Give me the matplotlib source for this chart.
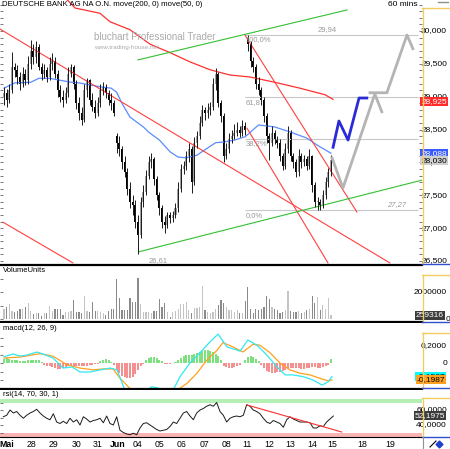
import numpy as np
import matplotlib.pyplot as plt
from matplotlib.lines import Line2D
from matplotlib.transforms import blended_transform_factory

plt.rcParams['font.family'] = ['Liberation Sans', 'DejaVu Sans']

# hourly bars, Deutsche Bank, 25 May .. 15 Jun
opens = [29.00, 29.05, 28.95, 29.10, 29.45, 29.40, 29.30, 29.20, 29.35, 29.25,
         29.50, 29.70, 29.60, 29.75, 29.45, 29.35, 29.40, 29.30, 29.50, 29.55,
         29.35, 29.10, 29.00, 28.95, 29.05, 29.35, 29.45, 29.20, 28.90, 28.75,
         28.65, 29.10, 29.25, 28.95, 28.85, 28.75, 28.90, 29.10, 29.15, 29.05,
         28.95, 28.90, 28.40, 28.30, 28.20, 28.00, 27.85, 27.60, 27.40, 27.35,
         27.10, 26.90, 27.40, 27.55, 27.80, 28.00, 28.05, 27.75, 27.50, 27.30,
         27.10, 27.05, 27.20, 27.15, 27.20, 27.30, 27.60, 27.90, 27.95, 28.10,
         28.20, 27.70, 28.30, 28.40, 28.60, 28.80, 28.75, 28.80, 28.85, 29.20,
         29.35, 28.90, 28.70, 28.10, 28.20, 28.35, 28.40, 28.45, 28.50, 28.45,
         28.55, 29.90, 29.80, 29.55, 29.45, 29.20, 29.10, 28.95, 28.70, 28.40,
         28.30, 28.45, 28.35, 28.30, 28.10, 27.95, 28.20, 28.45, 28.10, 28.00,
         27.85, 28.10, 28.00, 28.05, 27.95, 28.10, 27.65, 27.40, 27.40, 27.35,
         27.50, 27.70, 27.85]
closes = [29.05, 28.95, 29.10, 29.45, 29.40, 29.30, 29.20, 29.35, 29.25, 29.50,
          29.70, 29.60, 29.75, 29.45, 29.35, 29.40, 29.30, 29.50, 29.55, 29.35,
          29.10, 29.00, 28.95, 29.05, 29.35, 29.45, 29.20, 28.90, 28.75, 28.65,
          29.10, 29.25, 28.95, 28.85, 28.75, 28.90, 29.10, 29.15, 29.05, 28.95,
          28.90, 28.75, 28.30, 28.20, 28.00, 27.85, 27.60, 27.40, 27.35, 27.10,
          26.90, 27.40, 27.55, 27.80, 28.00, 28.05, 27.75, 27.50, 27.30, 27.10,
          27.05, 27.20, 27.15, 27.20, 27.30, 27.60, 27.90, 27.95, 28.10, 28.20,
          27.70, 28.30, 28.40, 28.60, 28.80, 28.75, 28.80, 28.85, 29.20, 29.35,
          28.90, 28.70, 28.10, 28.20, 28.35, 28.40, 28.45, 28.50, 28.45, 28.55,
          28.50, 29.80, 29.55, 29.45, 29.20, 29.10, 28.95, 28.70, 28.40, 28.30,
          28.45, 28.35, 28.30, 28.10, 27.95, 28.20, 28.45, 28.10, 28.00, 27.85,
          28.10, 28.00, 28.05, 27.95, 28.10, 27.65, 27.40, 27.40, 27.35, 27.50,
          27.70, 27.85, 28.03]
highs = [29.15, 29.12, 29.20, 29.68, 29.52, 29.48, 29.38, 29.45, 29.42, 29.62,
         29.86, 29.80, 29.85, 29.80, 29.52, 29.50, 29.45, 29.60, 29.66, 29.60,
         29.40, 29.18, 29.10, 29.15, 29.45, 29.50, 29.48, 29.25, 29.00, 28.85,
         29.20, 29.28, 29.27, 29.05, 28.95, 29.00, 29.20, 29.22, 29.20, 29.10,
         29.05, 28.95, 28.45, 28.40, 28.25, 28.10, 27.92, 27.70, 27.50, 27.42,
         27.20, 27.48, 27.65, 27.88, 28.10, 28.14, 28.08, 27.80, 27.55, 27.35,
         27.18, 27.25, 27.24, 27.26, 27.38, 27.70, 27.98, 28.02, 28.18, 28.30,
         28.25, 28.38, 28.48, 28.70, 28.88, 28.85, 28.90, 28.92, 29.28, 29.44,
         29.38, 28.95, 28.75, 28.30, 28.45, 28.50, 28.58, 28.62, 28.55, 28.65,
         28.62, 29.94, 29.85, 29.60, 29.50, 29.30, 29.15, 29.00, 28.75, 28.45,
         28.55, 28.50, 28.40, 28.35, 28.15, 28.30, 28.55, 28.50, 28.15, 28.05,
         28.20, 28.15, 28.12, 28.10, 28.20, 28.12, 27.70, 27.48, 27.45, 27.58,
         27.78, 27.92, 28.12]
lows = [28.88, 28.85, 28.90, 29.05, 29.30, 29.20, 29.10, 29.15, 29.18, 29.20,
        29.42, 29.50, 29.52, 29.40, 29.25, 29.28, 29.22, 29.26, 29.40, 29.28,
        29.00, 28.92, 28.85, 28.90, 29.00, 29.30, 29.12, 28.82, 28.65, 28.57,
        28.62, 29.00, 28.88, 28.78, 28.68, 28.70, 28.85, 29.02, 28.98, 28.88,
        28.80, 28.70, 28.14, 28.10, 27.90, 27.78, 27.50, 27.30, 27.20, 27.00,
        26.61, 26.85, 27.32, 27.50, 27.75, 27.92, 27.65, 27.42, 27.20, 27.00,
        26.93, 27.00, 27.08, 27.10, 27.15, 27.25, 27.55, 27.82, 27.88, 28.00,
        27.53, 27.65, 28.22, 28.35, 28.55, 28.65, 28.68, 28.72, 28.80, 29.10,
        28.85, 28.62, 28.00, 28.05, 28.15, 28.30, 28.35, 28.40, 28.38, 28.40,
        28.42, 29.70, 29.45, 29.38, 29.12, 29.02, 28.88, 28.62, 28.30, 28.04,
        28.25, 28.28, 28.22, 28.02, 27.88, 27.90, 28.15, 28.02, 27.92, 27.78,
        27.80, 27.92, 27.95, 27.88, 27.90, 27.55, 27.32, 27.27, 27.27, 27.30,
        27.45, 27.62, 27.80]
# volume in millions
volume = [0.72, 0.91, 1.11, 0.62, 0.49, 0.62, 0.72, 0.74, 0.86, 1.21,
          0.59, 0.35, 0.42, 0.42, 0.25, 0.42, 0.42, 0.96, 0.62, 0.77,
          0.72, 0.77, 0.30, 0.49, 0.54, 0.59, 1.41, 0.54, 0.49, 0.47,
          1.73, 0.62, 0.54, 1.26, 0.62, 0.62, 0.54, 0.42, 0.27, 0.57,
          0.74, 0.74, 2.94, 1.53, 0.67, 0.67, 0.67, 1.58, 1.23, 1.23,
          3.06, 1.09, 0.49, 0.49, 0.49, 0.47, 0.59, 0.62, 1.48, 0.91,
          1.16, 0.49, 0.17, 0.49, 0.62, 0.74, 1.09, 1.09, 1.23, 0.67,
          0.42, 0.79, 0.84, 0.86, 2.44, 0.67, 0.49, 0.42, 0.49, 0.74,
          1.04, 1.41, 1.21, 0.86, 0.67, 0.67, 0.49, 0.67, 0.42, 0.47,
          1.36, 2.40, 0.72, 0.42, 0.74, 0.67, 0.74, 0.91, 1.70, 1.46,
          0.91, 0.72, 0.67, 0.42, 0.54, 0.67, 2.07, 0.59, 0.49, 0.54,
          0.59, 0.42, 0.49, 0.67, 0.74, 1.70, 1.16, 1.65, 0.67, 1.04,
          0.72, 1.58, 0.26]
macd_hist = [0.05, 0.06, 0.05, 0.04, 0.04, 0.03, 0.02, 0.02, 0.02, 0.03,
             0.03, 0.03, 0.04, 0.03, 0.01, -0.02, -0.03, -0.04, -0.05, -0.06,
             -0.07, -0.07, -0.06, -0.05, -0.04, -0.04, -0.03, -0.03, -0.04, -0.04,
             -0.03, -0.03, -0.02, -0.02, -0.01, -0.01, 0.02, 0.04, 0.05, 0.04,
             0.01, -0.02, -0.08, -0.12, -0.15, -0.17, -0.18, -0.18, -0.16, -0.13,
             -0.08, -0.04, -0.01, 0.03, 0.06, 0.07, 0.07, 0.06, 0.04, 0.02,
             -0.01, -0.01, -0.01, 0.0, 0.01, 0.03, 0.06, 0.08, 0.09, 0.10,
             0.10, 0.11, 0.12, 0.13, 0.14, 0.15, 0.15, 0.14, 0.13, 0.11,
             0.08, 0.03, -0.03, -0.05, -0.06, -0.06, -0.05, -0.04, -0.02, 0.0,
             0.04, 0.07, 0.08, 0.07, 0.05, 0.02, -0.02, -0.06, -0.09, -0.11,
             -0.12, -0.12, -0.11, -0.10, -0.09, -0.08, -0.07, -0.06, -0.06, -0.06,
             -0.06, -0.07, -0.07, -0.06, -0.06, -0.05, -0.05, -0.06, -0.06, -0.05,
             -0.04, -0.02, 0.05]

# moving averages read at sample bars
ma200_bars = [23, 26.5, 35.8, 39.6, 47, 54.5, 62, 69.4, 76.9, 84.3, 91.8, 101, 110.4, 119.8, 122.8]
ma200_vals = [30.50, 30.35, 30.27, 30.14, 30.02, 29.80, 29.67, 29.53, 29.41, 29.33, 29.30, 29.22, 29.13, 29.03, 28.96]
ma50_bars = [0, 4, 10, 13, 17, 21, 25, 28, 32, 36, 40, 42, 44, 47, 50, 52, 54, 58, 62, 65, 68, 72,
             76, 79, 82, 86, 90, 95, 101, 107, 113, 117, 122]
ma50_vals = [29.13, 29.21, 29.22, 29.28, 29.28, 29.25, 29.22, 29.21, 29.18, 29.15, 29.13, 29.07, 28.90,
             28.69, 28.60, 28.54, 28.46, 28.34, 28.16, 28.08, 28.07, 28.11, 28.22, 28.30, 28.31, 28.34,
             28.39, 28.57, 28.54, 28.46, 28.37, 28.26, 28.14]

macd_bars = [0, 3.4, 6, 8.6, 12.3, 14.6, 18.3, 22, 25.4, 28.4, 32.1, 35.8, 39.6, 42.2, 45.1, 48.1, 51.9,
             55.2, 58.2, 63.1, 65.7, 69.4, 73.1, 76.9, 79.9, 83.2, 88.1, 91, 94.4, 98.1, 101.9, 104.9,
             107.8, 111.6, 115.3, 118.7, 121, 122.4]
macd_vals = [0.074, 0.106, 0.082, 0.094, 0.129, 0.106, 0.059, -0.059, -0.047, -0.106, -0.106, -0.082,
             -0.059, -0.082, -0.32, -0.43, -0.34, -0.28, -0.30, -0.32, -0.16, 0.0, 0.12, 0.25, 0.34,
             0.19, 0.14, 0.27, 0.21, 0.094, -0.047, -0.14, -0.14, -0.16, -0.20, -0.26, -0.22, -0.16]
signal_bars = [0, 6, 13.4, 18.3, 23.5, 28.4, 33.2, 36.9, 40.7, 43.3, 47, 50.7, 58.2, 64.6, 68.3, 72,
               75.7, 79.5, 81.7, 85.4, 89.2, 92.9, 95.5, 99.3, 103, 106.7, 110.4, 114.2, 117.9, 120.9, 122.4]
signal_vals = [0.059, 0.07, 0.11, 0.08, -0.02, -0.06, -0.08, -0.07, -0.07, -0.18, -0.30, -0.40, -0.42,
               -0.32, -0.24, -0.12, 0.035, 0.15, 0.24, 0.19, 0.13, 0.22, 0.21, 0.12, 0.0, -0.08, -0.12,
               -0.14, -0.18, -0.21, -0.20]

rsi_vals = [51, 53, 60, 56, 58, 53, 49, 53, 56, 58, 61, 56, 52, 49, 47, 55, 44, 42, 45, 42,
            49, 44, 47, 40, 51, 48, 44, 46, 47, 49, 43, 52, 42, 40, 51, 33, 30, 28, 27, 29,
            27, 36, 42, 43, 40, 37, 34, 32, 33, 34, 38, 44, 42, 49, 56, 58, 52, 47, 56, 60,
            62, 65, 67, 65, 70, 58, 53, 44, 49, 51, 52, 51, 53, 67, 65, 60, 58, 55, 49, 44,
            42, 46, 44, 42, 37, 47, 51, 48, 46, 44, 44, 44, 43, 36, 36, 39, 38, 44, 48, 52]

# drawing tools (bar, price)
red_lines = [([-1.5, 144.0], [30.03, 26.47]),
             ([-0.4, 25.7], [27.09, 26.47]),
             ([89.9, 131.7], [29.94, 27.245]),
             ([90.7, 120.9], [28.52, 26.47])]
green_lines = [([50.0, 128.0], [29.56, 30.32]),
               ([50.4, 156.0], [26.64, 27.73])]
fib_levels = [29.94, 28.99, 28.36, 27.27]
fib_labels = ['100,0%', '61,8', '38,2%', '0,0%']
blue_path = ([122.8, 125.0, 128.4, 132.5, 135.4], [28.23, 28.63, 28.34, 28.98, 28.98])
gray_path1 = ([122.4, 126.5, 138.4, 141.0], [28.07, 27.61, 29.04, 28.77])
gray_path2 = ([136.6, 142.9, 150.4, 152.6], [29.06, 29.06, 29.94, 29.73])
rsi_trend = ([90.7, 126.0], [66.7, 30.7])

date_pos = [1.2, 10.4, 18.4, 26.9, 35.1, 42.5, 50.0, 58.2, 66.4, 75.0, 83.2, 90.7, 98.9, 106.7,
            115.0, 122.4, 133.6, 144.0]
date_labels = ['Mai', '28', '29', '30', '31', 'Jun', '04', '05', '06', '07', '08', '11', '12', '13',
               '14', '15', '18', '19']

W, H = 450, 449
fig = plt.figure(figsize=(W / 100, H / 100), dpi=100)


def px_axes(x0, y0, x1, y1, ylim):
    ax = fig.add_axes([x0 / W, 1 - y1 / H, (x1 - x0) / W, (y1 - y0) / H])
    ax.set_xlim(-1.5, 156)
    ax.set_ylim(*ylim)
    for s in ('top', 'left', 'right'):
        ax.spines[s].set_visible(False)
    ax.spines['bottom'].set_linewidth(1.6)
    ax.set_xticks([])
    return ax


def fig_line(x0, y0, x1, y1, **kw):
    fig.add_artist(Line2D([x0 / W, x1 / W], [1 - y0 / H, 1 - y1 / H],
                          transform=fig.transFigure, **kw))


def fig_text(x, y, s, **kw):
    fig.text(x / W, 1 - y / H, s, **kw)


def side_label(ax, y, s, fc=None, color='black', x=447):
    tr = blended_transform_factory(fig.transFigure, ax.transData)
    kw = {}
    if fc:
        kw['bbox'] = dict(boxstyle='square,pad=0.12', fc=fc, ec='none')
    ax.text(x / W, y, s, transform=tr, ha='right', va='center', fontsize=6,
            color=color, clip_on=False, **kw)


def left_ticks(ax, ticks, both=False):
    ax.set_yticks(ticks)
    ax.set_yticklabels([])
    ax.tick_params(axis='y', direction='in', length=2, width=0.6, color='#606060',
                   left=True, right=both)


o, c = np.array(opens), np.array(closes)
h, l = np.array(highs), np.array(lows)
bars = np.arange(len(c))
rising = c >= o

# ---- price panel
ax = px_axes(0, 0, 422, 265, (26.438, 30.472))
left_ticks(ax, np.arange(26.5, 30.45, 0.1), both=True)
ax.hlines(fib_levels, 90, 154.5, color='#c8c8c8', lw=0.8)
for lev, lab in zip(fib_levels, fib_labels):
    ax.text(90.3, lev - 0.02, lab, va='top', fontsize=5.5, color='#9a9a9a')
ax.text(124.3, 29.97, '29,94', ha='right', va='bottom', fontsize=5.5, color='#9a9a9a')
ax.text(150.0, 27.30, '27,27', ha='right', va='bottom', fontsize=5.5, color='#9a9a9a', style='italic')
ax.text(57.5, 26.56, '26,61', ha='center', va='top', fontsize=5.5, color='#9a9a9a')
ax.plot(ma200_bars, ma200_vals, color='#ff3030', lw=0.9)
ax.plot(ma50_bars, ma50_vals, color='#5a8cff', lw=0.9)
for xs, ys in red_lines:
    ax.plot(xs, ys, color='#ff4040', lw=0.8)
for xs, ys in green_lines:
    ax.plot(xs, ys, color='#33c033', lw=0.8)
ax.vlines(bars, l, h, color='#1a1a1a', lw=0.7)
ax.bar(bars, np.maximum(np.abs(c - o), 0.015), bottom=np.minimum(o, c), width=0.75,
       color=np.where(rising, '#a0a0a0', '#000000'), lw=0)
ax.plot(*gray_path1, color='#b4b4b4', lw=2)
ax.plot(*gray_path2, color='#b4b4b4', lw=2)
ax.plot(*blue_path, color='#2a2ad8', lw=2)

for v in [30.0, 29.5, 29.0, 28.5, 28.0, 27.5, 27.0, 26.5]:
    side_label(ax, v, f'{v:.3f}'.replace('.', ','))
side_label(ax, 28.925, '28,925', fc='#ff2a2a', color='white')
side_label(ax, 28.14, '28,088', fc='#3a5cff', color='white')
side_label(ax, closes[-1], '28,030', fc='#cfcfcf')

fig_text(2, 5, 'DEUTSCHE BANK AG NA O.N. move(200, 0) move(50, 0)', fontsize=5.6,
         va='center')
fig_text(418, 5, '60 mins', fontsize=6, ha='right', va='center')
fig_text(94, 37, 'bluchart Professional Trader', fontsize=7.0, color='#ababab', va='center')
fig_text(94, 48, 'www.trading-house.net', fontsize=4.6, color='#ababab', va='center')

# ---- volume panel
ax_v = px_axes(0, 267, 422, 322, (-0.222, 3.852))
left_ticks(ax_v, [0, 1, 2, 3])
ax_v.bar(bars, volume, width=0.45, color=np.where(rising, '#c4c4c4', '#8a8a8a'), lw=0)
ax_v.text(0.007, 0.93, 'VolumeUnits', transform=ax_v.transAxes, fontsize=5.5, va='center')
side_label(ax_v, 2.0, '2000000')
side_label(ax_v, 0.0, '0', x=450)
side_label(ax_v, volume[-1], '259316', fc='#3c3c3c', color='white', x=444)

# ---- macd panel
ax_m = px_axes(0, 323, 422, 389, (-0.306, 0.471))
left_ticks(ax_m, [-0.2, -0.1, 0, 0.1, 0.2, 0.3])
hist = np.array(macd_hist)
ax_m.bar(bars, hist, width=0.75, color=np.where(hist >= 0, '#7ee07e', '#f49090'), lw=0)
ax_m.plot(signal_bars, signal_vals, color='#ffa020', lw=0.9)
ax_m.plot(macd_bars, macd_vals, color='#30e8f0', lw=0.9)
ax_m.text(0.007, 0.92, 'macd(12, 26, 9)', transform=ax_m.transAxes, fontsize=5.5, va='center')
side_label(ax_m, 0.2, '0,2000')
side_label(ax_m, 0.0, '0')
side_label(ax_m, -0.1587, '-0,1587', fc='#00ffff', x=445)
side_label(ax_m, -0.1987, '-0,1987', fc='#ffa020', x=445)

# ---- rsi panel
ax_r = px_axes(0, 390, 422, 437, (24, 86.7))
ax_r.spines['bottom'].set_linewidth(0.8)
left_ticks(ax_r, [30, 40, 50, 60, 70])
ax_r.axhspan(70, 74.7, color='#b4f0b4', lw=0)
ax_r.axhspan(24, 30, color='#f8b4b4', lw=0)
ax_r.plot(np.linspace(-0.25, 122.9, len(rsi_vals)), rsi_vals, color='#1a1a1a', lw=0.7)
ax_r.plot(*rsi_trend, color='#ff3030', lw=0.8)
ax_r.text(0.007, 0.91, 'rsi(14, 70, 30, 1)', transform=ax_r.transAxes, fontsize=5.5, va='center')
side_label(ax_r, 60, '60,0000')
side_label(ax_r, 40, '40,0000')
side_label(ax_r, 52.1975, '52,1975', fc='#3c3c3c', color='white', x=445)
ax_r.set_xticks(date_pos)
ax_r.set_xticklabels(date_labels, fontsize=6.3)
ax_r.tick_params(axis='x', length=0, pad=2)
for t in ax_r.get_xticklabels():
    if t.get_text() in ('Mai', 'Jun'):
        t.set_fontweight('bold')

# right-hand scale boxes
for top, bot in [(8, 264), (275, 322), (333, 388), (398, 437)]:
    fig_line(422, top, 450, top, color='#f2cc60', lw=1)
    fig_line(422.5, top, 422.5, bot, color='#f2cc60', lw=1)
    fig_line(422, bot, 450, bot, color='#3050d0', lw=1)
fig_line(422.5, 437, 422.5, 449, color='#909090', lw=0.8)
fig_line(438, 2, 448, 2, color='#909090', lw=1)
fig_line(430, 447, 436, 441, color='black', lw=0.8)
fig.add_artist(Line2D([439 / W], [1 - 444 / H], marker='D', ms=3.5, color='#2040d0',
                      transform=fig.transFigure))

plt.savefig('out.png', dpi=100)
